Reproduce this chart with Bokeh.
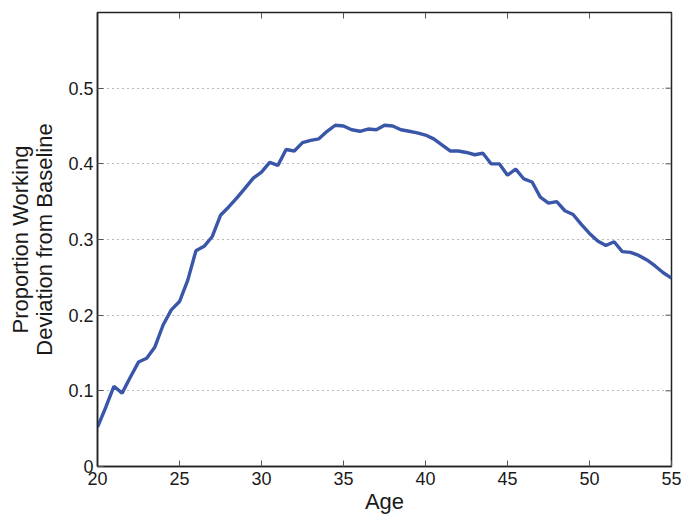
import math
from bokeh.plotting import figure
from bokeh.models import FixedTicker, Range1d
from bokeh.embed import file_html
from bokeh.resources import INLINE

ages = [20 + 0.5 * i for i in range(71)]
deviation = [
    0.052, 0.078, 0.106, 0.097, 0.118, 0.138, 0.143, 0.158, 0.187, 0.207,
    0.218, 0.246, 0.285, 0.291, 0.304, 0.332, 0.343, 0.355, 0.368, 0.381,
    0.389, 0.402, 0.398, 0.419, 0.417, 0.428, 0.431, 0.433, 0.443, 0.451,
    0.450, 0.445, 0.443, 0.446, 0.445, 0.451, 0.450, 0.445, 0.443, 0.441,
    0.438, 0.433, 0.425, 0.417, 0.417, 0.415, 0.412, 0.414, 0.400, 0.400,
    0.385, 0.393, 0.380, 0.376, 0.356, 0.348, 0.350, 0.338, 0.333, 0.320,
    0.308, 0.298, 0.292, 0.297, 0.284, 0.283, 0.279, 0.273, 0.265, 0.256,
    0.249,
]
x_ticks = [20, 25, 30, 35, 40, 45, 50, 55]
y_ticks = [0, 0.1, 0.2, 0.3, 0.4, 0.5]
x_min, x_max = 20, 55
y_min, y_max = 0, 0.6

FONT = "Liberation Sans"
TXT = "#1a1a1a"

p = figure(
    frame_width=574, frame_height=454,
    x_range=Range1d(x_min, x_max), y_range=Range1d(y_min, y_max),
    output_backend="svg", toolbar_location=None,
    min_border_left=97, min_border_top=12, min_border_right=10, min_border_bottom=40,
)
p.outline_line_color = "#222222"
p.outline_line_width = 1.5
p.background_fill_color = "white"
p.border_fill_color = "white"

p.line(ages, deviation, line_color="#3a56a8", line_width=3.4)

for ax in p.xaxis:
    ax.ticker = FixedTicker(ticks=x_ticks)
    ax.axis_label = "Age"
    ax.axis_label_text_font = FONT
    ax.axis_label_text_font_size = "22px"
    ax.axis_label_text_font_style = "normal"
    ax.axis_label_text_color = TXT
    ax.axis_label_standoff = 1
    ax.major_label_text_font = FONT
    ax.major_label_text_font_size = "18px"
    ax.major_label_text_color = TXT
    ax.major_label_standoff = 5
    ax.major_tick_in = 6
    ax.major_tick_out = 0
    ax.minor_tick_line_color = None
    ax.axis_line_color = "#222222"
    ax.axis_line_width = 1.5
    ax.major_tick_line_color = "#555555"

for ax in p.yaxis:
    ax.ticker = FixedTicker(ticks=y_ticks)
    ax.axis_label = "Proportion Working\nDeviation from Baseline"
    ax.axis_label_text_font = FONT
    ax.axis_label_text_font_size = "22px"
    ax.axis_label_text_font_style = "normal"
    ax.axis_label_text_line_height = 0.97
    ax.axis_label_text_color = TXT
    ax.axis_label_standoff = 8
    ax.major_label_text_font = FONT
    ax.major_label_text_font_size = "18px"
    ax.major_label_text_color = TXT
    ax.major_label_standoff = 4
    ax.major_tick_in = 6
    ax.major_tick_out = 0
    ax.minor_tick_line_color = None
    ax.axis_line_color = "#222222"
    ax.axis_line_width = 1.5
    ax.major_tick_line_color = "#555555"

# inward ticks on the top and right edges of the box
p.ray(x=x_ticks, y=[y_max] * len(x_ticks), length=6, length_units="screen",
      angle=-math.pi / 2, line_color="#555555", line_width=1)
p.ray(x=[x_max] * len(y_ticks), y=y_ticks, length=6, length_units="screen",
      angle=math.pi, line_color="#555555", line_width=1)

p.xgrid.grid_line_color = None
p.ygrid.ticker = FixedTicker(ticks=[0.1, 0.2, 0.3, 0.4, 0.5])
p.ygrid.grid_line_color = "#777777"
p.ygrid.grid_line_dash = "1 4"
p.ygrid.grid_line_width = 1.2

open("out.html", "w").write(file_html(p, INLINE))
